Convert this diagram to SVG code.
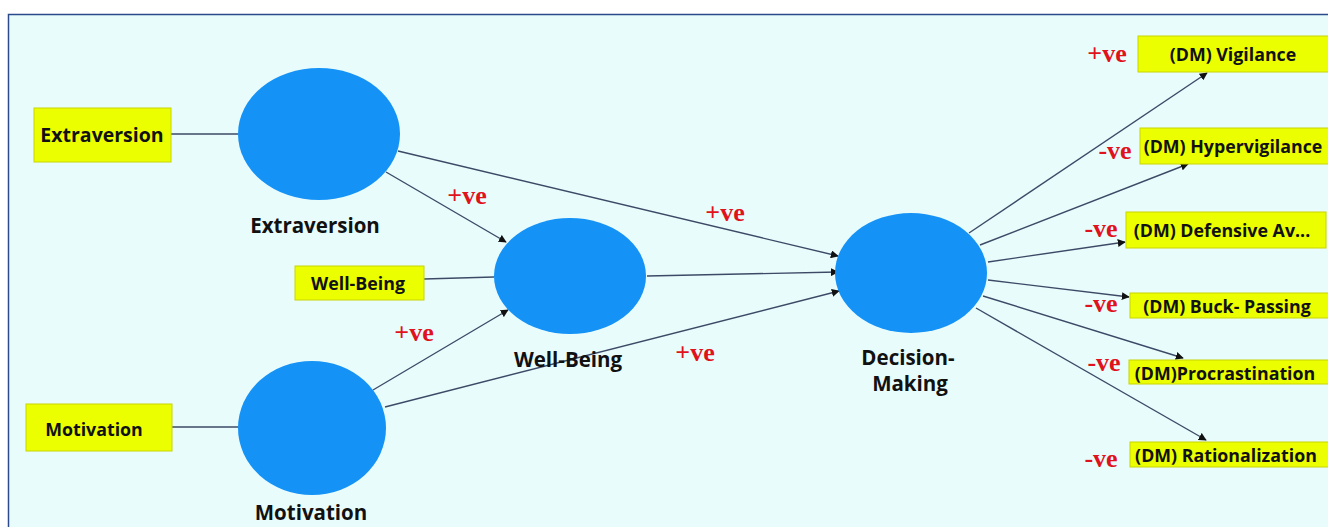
<svg xmlns="http://www.w3.org/2000/svg" width="1328" height="527" viewBox="0 0 1328 527">
<defs>
<marker id="ah" viewBox="0 0 10 10" refX="9" refY="5" markerWidth="8" markerHeight="8" markerUnits="userSpaceOnUse" orient="auto">
<path d="M0,0 L10,5 L0,10 Z" fill="#111"/>
</marker>
<style>
.bg{fill:#e9fcfc;stroke:#2b4a8c;stroke-width:1.5}
.lv{fill:#1492f6}
.ind{fill:#ecff00;stroke:#c8d400;stroke-width:1}
.t{font-family:"Open Sans","Noto Sans","Liberation Sans",sans-serif;font-weight:bold;fill:#111;text-anchor:middle}
.lab{font-size:20.5px}
.bx{font-size:17.8px}
.sg{font-family:"Liberation Serif",serif;font-weight:bold;font-size:26px;fill:#e0121c;text-anchor:middle}
.c{stroke:#3c4a66;stroke-width:1.4;fill:none}
.ca{stroke:#3c4a66;stroke-width:1.4;fill:none;marker-end:url(#ah)}
</style>
</defs>
<rect x="0" y="0" width="1328" height="527" fill="#ffffff"/>
<rect class="bg" x="8.5" y="14.5" width="1340" height="530"/>
<g id="connectors">
<line class="c" x1="171" y1="134" x2="238" y2="134"/>
<line class="c" x1="424" y1="279" x2="494" y2="277"/>
<line class="c" x1="172" y1="427" x2="238" y2="427"/>
<line class="ca" x1="398" y1="151" x2="838" y2="256"/>
<line class="ca" x1="386" y1="172" x2="506" y2="242"/>
<line class="ca" x1="647" y1="276" x2="838" y2="272"/>
<line class="ca" x1="373" y1="390" x2="508" y2="310"/>
<line class="ca" x1="385" y1="407" x2="839" y2="291"/>
<line class="ca" x1="969" y1="233" x2="1207" y2="73"/>
<line class="ca" x1="980" y1="245" x2="1188" y2="164"/>
<line class="ca" x1="988" y1="262" x2="1125" y2="242"/>
<line class="ca" x1="988" y1="280" x2="1129" y2="297"/>
<line class="ca" x1="983" y1="296" x2="1183" y2="358"/>
<line class="ca" x1="976" y1="308" x2="1206" y2="440"/>
<text class="sg" x="467" y="204">+ve</text>
<text class="sg" x="725" y="221">+ve</text>
<text class="sg" x="414" y="341">+ve</text>
<text class="sg" x="695" y="361">+ve</text>
<text class="sg" x="1107" y="62">+ve</text>
<text class="sg" x="1115" y="159">-ve</text>
<text class="sg" x="1101" y="237">-ve</text>
<text class="sg" x="1101" y="312">-ve</text>
<text class="sg" x="1104" y="371">-ve</text>
<text class="sg" x="1101" y="467">-ve</text>
</g>
<g id="ind-extraversion">
<rect class="ind" x="34" y="108" width="137" height="54"/>
<text class="t" x="102" y="142" font-size="19.5">Extraversion</text>
</g>
<g id="ind-wellbeing">
<rect class="ind" x="295" y="266" width="129" height="34"/>
<text class="t bx" x="358" y="290">Well-Being</text>
</g>
<g id="ind-motivation">
<rect class="ind" x="26" y="404" width="146" height="47"/>
<text class="t bx" x="94" y="436">Motivation</text>
</g>
<g id="lv-extraversion">
<ellipse class="lv" cx="319" cy="134" rx="81" ry="66"/>
<text class="t lab" x="315" y="233">Extraversion</text>
</g>
<g id="lv-wellbeing">
<ellipse class="lv" cx="570" cy="276" rx="76" ry="58"/>
<text class="t lab" x="568" y="367">Well-Being</text>
</g>
<g id="lv-motivation">
<ellipse class="lv" cx="312" cy="428" rx="74" ry="67"/>
<text class="t lab" x="311" y="520">Motivation</text>
</g>
<g id="lv-decision">
<ellipse class="lv" cx="911" cy="273" rx="76" ry="60"/>
<text class="t lab" x="908" y="365">Decision-</text>
<text class="t lab" x="910" y="391">Making</text>
</g>
<g id="ind-vigilance">
<rect class="ind" x="1138" y="36" width="195" height="36"/>
<text class="t bx" x="1233" y="61">(DM) Vigilance</text>
</g>
<g id="ind-hypervigilance">
<rect class="ind" x="1140" y="128" width="193" height="36"/>
<text class="t bx" x="1233" y="153">(DM) Hypervigilance</text>
</g>
<g id="ind-defensive">
<rect class="ind" x="1126" y="212" width="200" height="36"/>
<text class="t bx" x="1222" y="237">(DM) Defensive Av...</text>
</g>
<g id="ind-buck">
<rect class="ind" x="1130" y="293" width="203" height="25"/>
<text class="t bx" x="1227" y="313">(DM) Buck- Passing</text>
</g>
<g id="ind-procrastination">
<rect class="ind" x="1129" y="360" width="204" height="24"/>
<text class="t bx" x="1225" y="380">(DM)Procrastination</text>
</g>
<g id="ind-rationalization">
<rect class="ind" x="1130" y="442" width="203" height="25"/>
<text class="t bx" x="1226" y="462">(DM) Rationalization</text>
</g>
</svg>
